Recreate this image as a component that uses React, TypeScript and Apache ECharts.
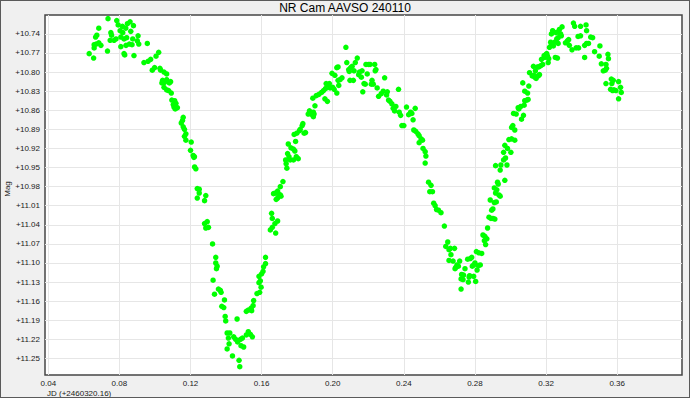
import React, { useEffect, useRef } from "react";
import * as echarts from "echarts";

const title = "NR Cam AAVSO 240110";
const xName = "JD (+2460320.16)";
const yName = "Mag";

const xTicks = [0.04, 0.08, 0.12, 0.16, 0.2, 0.24, 0.28, 0.32, 0.36];
const yTicks = [10.74, 10.77, 10.8, 10.83, 10.86, 10.89, 10.92, 10.95, 10.98, 11.01, 11.04, 11.07, 11.1, 11.13, 11.16, 11.19, 11.22, 11.25];

const maxI: [number, number][] = [
  [0.0736,10.716],[0.0785,10.719],[0.0684,10.731],[0.0793,10.726],[0.0817,10.728],[0.0845,10.724],[0.0860,10.721],[0.0879,10.727],[0.0836,10.731],[0.0804,10.735],[0.0819,10.738],[0.0752,10.738],[0.0756,10.742],[0.0673,10.742],[0.0666,10.745],[0.0905,10.743],[0.0875,10.748],[0.0901,10.751],[0.0909,10.756],[0.0748,10.750],[0.0770,10.750],[0.0781,10.748],[0.0808,10.745],[0.0826,10.748],[0.0841,10.746],[0.0864,10.736],[0.0658,10.757],[0.0669,10.756],[0.0684,10.754],[0.0696,10.758],[0.0658,10.762],[0.0630,10.771],[0.0655,10.778],[0.0733,10.767],[0.0808,10.760],[0.0837,10.758],[0.0856,10.756],[0.0871,10.757],[0.0826,10.771],[0.0830,10.773],[0.0882,10.774],[0.0957,10.755],
];

const descentI: [number, number][] = [
  [0.0938,10.785],[0.0961,10.783],[0.0976,10.780],[0.1006,10.775],[0.1021,10.769],[0.0985,10.797],[0.0998,10.793],[0.1028,10.794],[0.1032,10.797],[0.1051,10.800],[0.1066,10.803],[0.1043,10.813],[0.1054,10.816],[0.1039,10.817],[0.1066,10.812],[0.1081,10.817],[0.1088,10.815],[0.1051,10.824],[0.1066,10.828],[0.1077,10.829],[0.1092,10.833],[0.1095,10.844],[0.1111,10.845],[0.1118,10.849],[0.1103,10.851],[0.1107,10.855],[0.1126,10.856],[0.1114,10.858],[0.1159,10.871],[0.1155,10.876],[0.1148,10.880],[0.1159,10.886],[0.1166,10.890],[0.1174,10.897],[0.1166,10.901],[0.1174,10.907],[0.1204,10.910],[0.1200,10.923],[0.1215,10.931],[0.1222,10.933],
  [0.1219,10.934],[0.1223,10.949],[0.1230,10.952],[0.1238,10.983],[0.1249,10.984],[0.1249,10.990],[0.1238,10.998],[0.1279,11.002],[0.1286,10.994],[0.1279,11.038],[0.1294,11.035],[0.1286,11.045],[0.1301,11.044],[0.1324,11.070],[0.1342,11.091],[0.1342,11.100],[0.1350,11.105],[0.1346,11.109],[0.1327,11.127],[0.1335,11.149],[0.1357,11.141],[0.1368,11.143],[0.1372,11.146],[0.1391,11.158],[0.1376,11.168],[0.1387,11.170],[0.1395,11.184],[0.1398,11.191],
];

const minI: [number, number][] = [
  [0.1462,11.188],[0.1406,11.210],[0.1421,11.210],[0.1413,11.218],[0.1406,11.235],[0.1417,11.227],[0.1443,11.216],[0.1454,11.220],[0.1465,11.224],[0.1481,11.220],[0.1492,11.218],[0.1484,11.230],[0.1499,11.232],[0.1514,11.213],[0.1525,11.208],[0.1537,11.212],[0.1548,11.216],[0.1436,11.246],[0.1473,11.253],[0.1477,11.263],
];

const riseI: [number, number][] = [
  [0.1514,11.176],[0.1525,11.174],[0.1541,11.171],[0.1552,11.167],[0.1555,11.159],[0.1544,11.175],[0.1574,11.148],[0.1589,11.146],[0.1597,11.138],[0.1585,11.131],[0.1593,11.128],[0.1585,11.121],[0.1600,11.117],[0.1608,11.113],[0.1611,11.106],[0.1622,11.101],[0.1622,11.091],[0.1649,11.048],[0.1660,11.044],[0.1675,11.038],[0.1690,11.034],[0.1656,11.022],[0.1660,11.030],[0.1679,11.053],[0.1667,10.991],[0.1679,10.990],[0.1690,10.987],[0.1694,10.991],[0.1682,11.000],[0.1690,10.998],[0.1705,10.980],[0.1705,10.993],[0.1709,10.995],[0.1720,10.972],[0.1738,10.944],[0.1742,10.951],[0.1735,10.938],[0.1746,10.928],[0.1754,10.933],[0.1761,10.938],[0.1779,10.938],[0.1787,10.924],[0.1795,10.933],[0.1806,10.936],
  [0.1750,10.913],[0.1765,10.919],[0.1779,10.921],[0.1791,10.909],[0.1783,10.898],[0.1798,10.896],[0.1817,10.890],[0.1828,10.884],[0.1839,10.896],[0.1813,10.892],[0.1832,10.881],[0.1847,10.895],[0.1862,10.866],[0.1869,10.861],[0.1884,10.867],[0.1895,10.866],[0.1891,10.863],[0.1891,10.870],[0.1888,10.841],[0.1907,10.837],[0.1922,10.835],[0.1937,10.832],[0.1948,10.829],[0.1959,10.826],[0.1900,10.853],[0.1956,10.842],[0.1970,10.846],
];

const maxII: [number, number][] = [
  [0.1963,10.818],[0.1970,10.820],[0.1981,10.818],[0.1985,10.825],[0.2000,10.824],[0.2008,10.827],[0.2023,10.833],[0.2034,10.821],[0.1996,10.802],[0.2012,10.805],[0.2023,10.793],[0.2030,10.813],
  [0.2030,10.792],[0.2041,10.812],[0.2052,10.809],[0.2074,10.761],[0.2079,10.785],[0.2090,10.796],[0.2101,10.793],[0.2093,10.799],[0.2097,10.813],[0.2116,10.813],[0.2109,10.791],[0.2120,10.798],[0.2127,10.785],[0.2138,10.778],[0.2150,10.800],[0.2146,10.804],[0.2161,10.808],[0.2165,10.798],[0.2169,10.831],[0.2176,10.818],[0.2187,10.788],[0.2194,10.803],[0.2202,10.788],[0.2210,10.788],[0.2183,10.819],[0.2217,10.819],[0.2221,10.813],[0.2228,10.819],[0.2236,10.788],[0.2243,10.796],[0.2239,10.798],
];

const descentII: [number, number][] = [
  [0.2250,10.825],[0.2258,10.838],[0.2273,10.834],[0.2284,10.830],[0.2292,10.809],[0.2303,10.836],[0.2307,10.831],[0.2314,10.844],[0.2322,10.846],[0.2333,10.850],[0.2340,10.857],[0.2348,10.861],[0.2355,10.854],[0.2370,10.827],[0.2374,10.863],[0.2382,10.868],[0.2389,10.884],[0.2400,10.884],[0.2415,10.855],[0.2427,10.867],[0.2438,10.863],[0.2445,10.865],[0.2452,10.875],[0.2456,10.891],[0.2464,10.857],[0.2467,10.893],[0.2479,10.897],[0.2486,10.900],[0.2497,10.905],[0.2505,10.907],[0.2486,10.911],[0.2508,10.920],[0.2520,10.925],[0.2524,10.932],[0.2520,10.943],
  [0.2539,10.973],[0.2553,10.978],[0.2546,10.988],[0.2561,10.988],[0.2568,11.006],[0.2576,11.010],[0.2584,11.016],[0.2595,11.017],[0.2609,11.021],[0.2628,11.042],
];

const minII: [number, number][] = [
  [0.2647,11.067],[0.2636,11.074],[0.2654,11.079],[0.2662,11.077],[0.2685,11.077],[0.2665,11.087],[0.2654,11.096],[0.2677,11.097],[0.2714,11.097],[0.2699,11.103],[0.2692,11.107],[0.2707,11.105],[0.2688,11.109],
  [0.2725,11.118],[0.2736,11.119],[0.2722,11.125],[0.2733,11.126],[0.2744,11.109],[0.2759,11.094],[0.2774,11.093],[0.2782,11.091],[0.2793,11.103],[0.2785,11.105],[0.2800,11.100],[0.2767,11.122],[0.2770,11.120],[0.2793,11.121],[0.2763,11.130],[0.2804,11.129],[0.2812,11.111],[0.2830,11.103],[0.2819,11.104],[0.2808,11.082],[0.2822,11.084],[0.2838,11.085],[0.2722,11.141],
];

const riseII: [number, number][] = [
  [0.2845,11.056],[0.2856,11.058],[0.2853,11.065],[0.2867,11.062],[0.2860,11.071],[0.2871,11.045],[0.2879,11.028],[0.2890,11.030],[0.2901,11.030],[0.2912,11.031],[0.2894,11.017],[0.2901,11.015],[0.2886,11.001],[0.2920,11.004],[0.2909,11.005],[0.2916,10.990],[0.2935,10.993],[0.2909,10.982],[0.2923,10.985],[0.2931,10.976],[0.2927,10.973],[0.2942,10.995],[0.2968,10.970],[0.2916,10.947],[0.2942,10.954],[0.2946,10.946],[0.2961,10.938],[0.2972,10.935],[0.2980,10.946],[0.3002,10.926],[0.2961,10.926],
  [0.2968,10.915],[0.2983,10.920],[0.2991,10.906],[0.3006,10.905],[0.3024,10.907],[0.3006,10.887],[0.3013,10.884],[0.3024,10.891],[0.3032,10.866],[0.3017,10.865],[0.3062,10.874],[0.3073,10.868],[0.3043,10.856],[0.3047,10.858],[0.3058,10.854],[0.3077,10.852],[0.3080,10.845],[0.3092,10.844],[0.3099,10.843],[0.3096,10.833],[0.3080,10.830],[0.3069,10.817],[0.3103,10.822],[0.3107,10.801],[0.3122,10.806],[0.3133,10.805],[0.3137,10.808],[0.3144,10.810],[0.3156,10.806],[0.3163,10.804],[0.3129,10.791],[0.3140,10.798],[0.3152,10.792],[0.3159,10.792],[0.3170,10.790],[0.3181,10.788],[0.3174,10.780],[0.3189,10.774],[0.3200,10.772],[0.3193,10.777],[0.3208,10.775],[0.3215,10.779],[0.3212,10.785],[0.3204,10.771],
];

const maxIII: [number, number][] = [
  [0.3219,10.761],[0.3230,10.757],[0.3241,10.759],[0.3226,10.753],[0.3249,10.753],[0.3260,10.748],[0.3252,10.777],[0.3264,10.778],[0.3268,10.755],[0.3268,10.746],[0.3230,10.740],[0.3237,10.735],[0.3256,10.738],[0.3268,10.737],[0.3282,10.740],[0.3275,10.733],[0.3290,10.729],[0.3286,10.743],[0.3309,10.754],[0.3320,10.751],[0.3327,10.749],[0.3331,10.758],[0.3346,10.765],[0.3369,10.762],[0.3383,10.762],[0.3354,10.723],[0.3361,10.728],[0.3394,10.728],[0.3425,10.726],[0.3380,10.744],[0.3394,10.743],[0.3428,10.735],[0.3451,10.745],[0.3462,10.746],[0.3417,10.758],[0.3428,10.755],[0.3439,10.755],[0.3417,10.777],[0.3473,10.768],[0.3499,10.775],[0.3503,10.759],[0.3511,10.787],[0.3522,10.798],[0.3533,10.797],[0.3540,10.794],[0.3551,10.779],[0.3548,10.772],[0.3537,10.788],[0.3537,10.818],[0.3567,10.811],[0.3578,10.813],[0.3563,10.827],[0.3574,10.829],[0.3593,10.829],[0.3608,10.815],[0.3619,10.824],[0.3623,10.832],[0.3608,10.842],[0.3570,10.818],[0.3582,10.828],
];

const allPoints = [...maxI, ...descentI, ...minI, ...riseI, ...maxII, ...descentII, ...minII, ...riseII, ...maxIII];

const FONT = "'Liberation Sans', Arial, sans-serif";

export default function App() {
  const ref = useRef<HTMLDivElement>(null);
  useEffect(() => {
    if (!ref.current) return;
    const chart = echarts.init(ref.current, null, { renderer: "svg" });
    chart.setOption({
      animation: false,
      backgroundColor: "#f0f0f0",
      title: {
        text: title,
        left: "center",
        top: -4,
        textStyle: { fontFamily: FONT, fontSize: 12, fontWeight: "normal", color: "#000" },
      },
      grid: {
        left: 44,
        top: 14,
        right: 7,
        bottom: 22,
        show: true,
        backgroundColor: "#ffffff",
        borderColor: "#454545",
        borderWidth: 1.5,
      },
      xAxis: {
        type: "value",
        min: 0.03815,
        max: 0.39647,
        axisLine: { show: false },
        axisTick: { show: false, customValues: xTicks },
        axisLabel: {
          customValues: xTicks,
          formatter: (v: number) => v.toFixed(2),
          fontFamily: FONT,
          fontSize: 8,
          color: "#1a1a1a",
          margin: 4,
        },
        splitLine: { show: true, lineStyle: { color: "#e6e6e6", width: 1 } },
      },
      yAxis: {
        type: "value",
        inverse: true,
        min: 10.7103,
        max: 11.276,
        axisLine: { show: false },
        axisTick: { show: false, customValues: yTicks },
        axisLabel: {
          customValues: yTicks,
          formatter: (v: number) => "+" + v.toFixed(2),
          fontFamily: FONT,
          fontSize: 8,
          color: "#1a1a1a",
          margin: 5,
        },
        splitLine: { show: true, lineStyle: { color: "#e6e6e6", width: 1 } },
      },
      graphic: [
        {
          type: "text",
          x: 6,
          y: 188,
          rotation: Math.PI / 2,
          style: { text: yName, fontFamily: FONT, fontSize: 8, fill: "#1a1a1a", align: "center", verticalAlign: "middle" },
        },
        {
          type: "text",
          x: 46,
          y: 392,
          style: { text: xName, fontFamily: FONT, fontSize: 8, fill: "#1a1a1a", align: "left", verticalAlign: "middle" },
        },
      ],
      series: [
        {
          type: "scatter",
          data: allPoints,
          symbol: "circle",
          symbolSize: 5.5,
          itemStyle: { color: "#00ff00", opacity: 1 },
          silent: true,
        },
      ],
    });
    return () => chart.dispose();
  }, []);
  return (
    <div
      style={{
        position: "absolute",
        left: 0,
        top: 0,
        width: 690,
        height: 398,
        boxSizing: "border-box",
        border: "1px solid #5a5a5a",
        background: "#f0f0f0",
      }}
    >
      <div ref={ref} style={{ width: 688, height: 396 }} />
    </div>
  );
}
